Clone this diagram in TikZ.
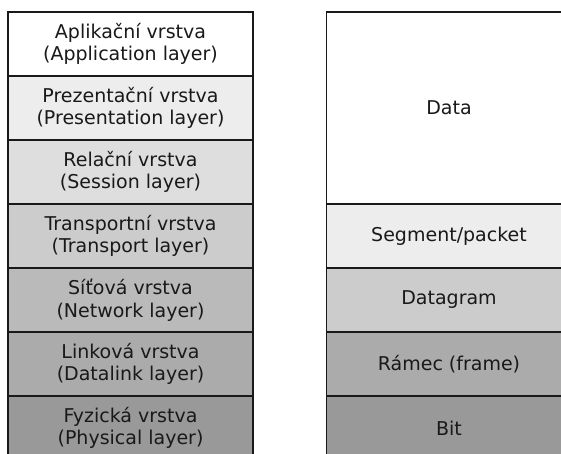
\documentclass[tikz,border=0pt]{standalone}
\usepackage{fontspec}
\setmainfont{DejaVu Sans}
\begin{document}
\begin{tikzpicture}[x=1bp,y=-1bp,
  layerbox/.style={draw=black!90, line width=1.6bp, minimum width=245bp, minimum height=64bp,
    inner sep=0pt, align=center, font=\fontsize{19bp}{22.5bp}\selectfont, text=black!90},
]
\useasboundingbox (0,0) rectangle (561,454);
\clip (0,0) rectangle (561,454);
% left column
\node[layerbox, fill=white]     (app)  at (130.5,44)  {Aplikační vrstva\\(Application layer)};
\node[layerbox, fill=black!7]   (pres) at (130.5,108) {Prezentační vrstva\\(Presentation layer)};
\node[layerbox, fill=black!13]  (sess) at (130.5,172) {Relační vrstva\\(Session layer)};
\node[layerbox, fill=black!20]  (tran) at (130.5,236) {Transportní vrstva\\(Transport layer)};
\node[layerbox, fill=black!27]  (net)  at (130.5,300) {Síťová vrstva\\(Network layer)};
\node[layerbox, fill=black!33]  (link) at (130.5,364) {Linková vrstva\\(Datalink layer)};
\node[layerbox, fill=black!40]  (phys) at (130.5,428) {Fyzická vrstva\\(Physical layer)};
% right column
\node[layerbox, fill=white, minimum height=192bp] (data) at (449,108) {Data};
\node[layerbox, fill=black!7]  (seg)  at (449,236) {Segment/packet};
\node[layerbox, fill=black!20] (dgram) at (449,300) {Datagram};
\node[layerbox, fill=black!33] (frame) at (449,364) {Rámec (frame)};
\node[layerbox, fill=black!40] (bit)  at (449,428) {Bit};
\end{tikzpicture}
\end{document}
